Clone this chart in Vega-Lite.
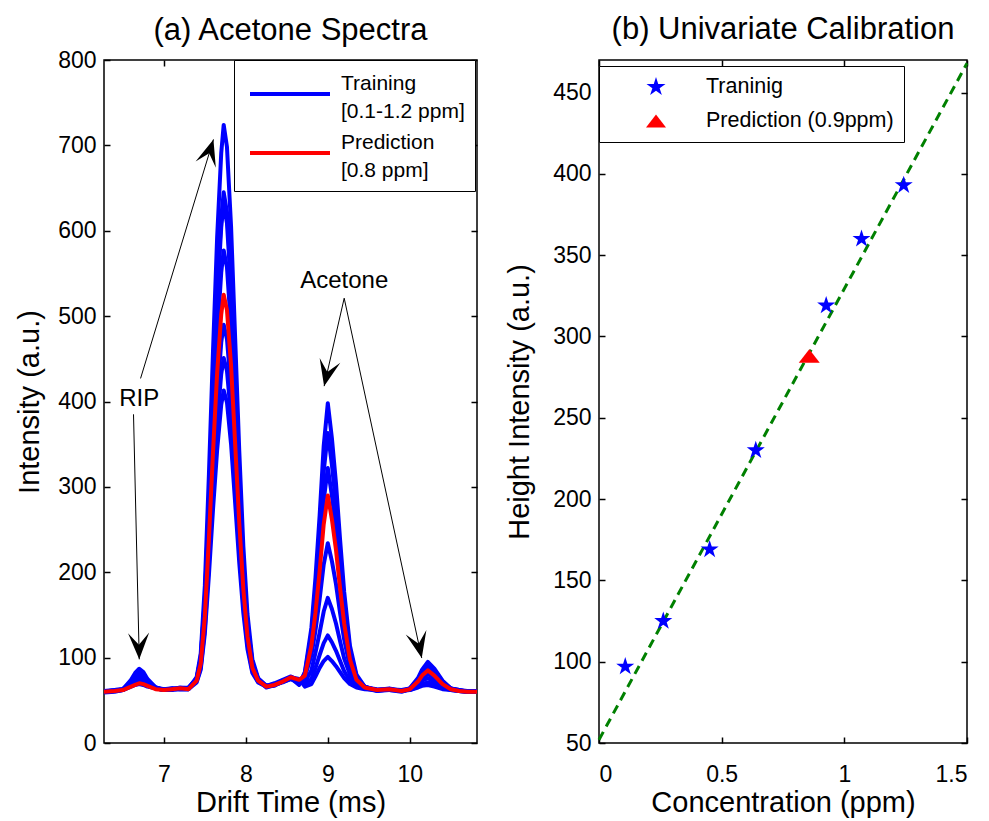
{
  "$schema": "https://vega.github.io/schema/vega-lite/v6.json",
  "background": "white",
  "padding": {"left": 14, "top": 13, "right": 5, "bottom": 0},
  "spacing": 25,
  "resolve": {"scale": {"color": "independent", "shape": "independent"}},
  "config": {
    "font": "Liberation Sans",
    "view": {"stroke": "black", "strokeWidth": 1.5},
    "axis": {"grid": false, "domain": false, "ticks": true, "tickSize": 6, "offset": -6, "tickWidth": 1.5, "tickColor": "black", "labelFont": "Liberation Sans", "labelFontSize": 23, "labelColor": "black", "titleFont": "Liberation Sans", "titleFontSize": 29, "titleFontWeight": "normal", "titleColor": "black"},
    "axisX": {"labelPadding": 20, "titlePadding": 2},
    "axisY": {"labelPadding": 8, "titlePadding": 13},
    "title": {"font": "Liberation Sans", "fontSize": 31, "fontWeight": "normal", "color": "black", "frame": "group", "offset": 2},
    "legend": {"labelFont": "Liberation Sans", "labelColor": "black"}
  },
  "datasets": {
    "spectra": [
      {"t":6.27,"b1":61,"b2":60,"b3":61,"b4":60,"b5":59,"b6":60,"b7":61,"r":60},
      {"t":6.4,"b1":62,"b2":61,"b3":61,"b4":62,"b5":60,"b6":61,"b7":61,"r":61},
      {"t":6.5,"b1":63,"b2":63,"b3":63,"b4":63,"b5":62,"b6":62,"b7":62,"r":62},
      {"t":6.6,"b1":74,"b2":72,"b3":71,"b4":69,"b5":68,"b6":67,"b7":66,"r":66},
      {"t":6.65,"b1":82,"b2":79,"b3":77,"b4":74,"b5":71,"b6":69,"b7":68,"r":68},
      {"t":6.7,"b1":87,"b2":83,"b3":80,"b4":77,"b5":73,"b6":71,"b7":69,"r":70},
      {"t":6.75,"b1":83,"b2":80,"b3":77,"b4":75,"b5":72,"b6":70,"b7":68,"r":69},
      {"t":6.8,"b1":75,"b2":73,"b3":71,"b4":70,"b5":68,"b6":67,"b7":66,"r":67},
      {"t":6.9,"b1":65,"b2":65,"b3":65,"b4":64,"b5":64,"b6":64,"b7":64,"r":63},
      {"t":7.0,"b1":62,"b2":63,"b3":62,"b4":62,"b5":63,"b6":62,"b7":62,"r":62},
      {"t":7.1,"b1":63,"b2":64,"b3":63,"b4":63,"b5":62,"b6":63,"b7":64,"r":63},
      {"t":7.2,"b1":64,"b2":63,"b3":64,"b4":65,"b5":63,"b6":64,"b7":63,"r":64},
      {"t":7.3,"b1":64,"b2":63,"b3":65,"b4":64,"b5":63,"b6":64,"b7":63,"r":63},
      {"t":7.4,"b1":77,"b2":76,"b3":75,"b4":74,"b5":73,"b6":72,"b7":71,"r":73},
      {"t":7.45,"b1":105,"b2":100,"b3":99,"b4":96,"b5":91,"b6":88,"b7":86,"r":93},
      {"t":7.5,"b1":184,"b2":169,"b3":167,"b4":157,"b5":142,"b6":134,"b7":128,"r":148},
      {"t":7.55,"b1":315,"b2":285,"b3":280,"b4":260,"b5":227,"b6":212,"b7":197,"r":240},
      {"t":7.6,"b1":460,"b2":413,"b3":405,"b4":372,"b5":320,"b6":297,"b7":274,"r":341},
      {"t":7.65,"b1":592,"b2":529,"b3":519,"b4":475,"b5":405,"b6":374,"b7":343,"r":433},
      {"t":7.7,"b1":691,"b2":616,"b3":604,"b4":551,"b5":469,"b6":432,"b7":396,"r":502},
      {"t":7.73,"b1":724,"b2":645,"b3":632,"b4":577,"b5":490,"b6":451,"b7":413,"r":525},
      {"t":7.77,"b1":698,"b2":622,"b3":609,"b4":557,"b5":473,"b6":436,"b7":399,"r":507},
      {"t":7.82,"b1":605,"b2":541,"b3":530,"b4":485,"b5":414,"b6":382,"b7":350,"r":442},
      {"t":7.87,"b1":474,"b2":425,"b3":417,"b4":382,"b5":329,"b6":304,"b7":281,"r":350},
      {"t":7.92,"b1":342,"b2":309,"b3":303,"b4":280,"b5":244,"b6":227,"b7":211,"r":258},
      {"t":7.97,"b1":230,"b2":210,"b3":207,"b4":193,"b5":171,"b6":162,"b7":152,"r":180},
      {"t":8.02,"b1":151,"b2":140,"b3":139,"b4":132,"b5":120,"b6":115,"b7":110,"r":125},
      {"t":8.08,"b1":98,"b2":94,"b3":93,"b4":91,"b5":86,"b6":84,"b7":82,"r":88},
      {"t":8.15,"b1":76,"b2":75,"b3":75,"b4":74,"b5":72,"b6":72,"b7":71,"r":73},
      {"t":8.25,"b1":67,"b2":66,"b3":67,"b4":65,"b5":66,"b6":67,"b7":66,"r":66},
      {"t":8.35,"b1":69,"b2":68,"b3":70,"b4":68,"b5":67,"b6":69,"b7":68,"r":68},
      {"t":8.45,"b1":73,"b2":72,"b3":74,"b4":71,"b5":72,"b6":73,"b7":72,"r":72},
      {"t":8.55,"b1":77,"b2":76,"b3":78,"b4":75,"b5":75,"b6":77,"b7":76,"r":77},
      {"t":8.65,"b1":75,"b2":74,"b3":73,"b4":72,"b5":70,"b6":69,"b7":68,"r":74},
      {"t":8.72,"b1":66,"b2":68,"b3":71,"b4":77,"b5":80,"b6":82,"b7":83,"r":79},
      {"t":8.8,"b1":69,"b2":75,"b3":85,"b4":103,"b5":120,"b6":128,"b7":135,"r":114},
      {"t":8.85,"b1":78,"b2":88,"b3":106,"b4":132,"b5":165,"b6":181,"b7":194,"r":153},
      {"t":8.9,"b1":88,"b2":103,"b3":129,"b4":168,"b5":221,"b6":245,"b7":266,"r":201},
      {"t":8.95,"b1":96,"b2":117,"b3":154,"b4":209,"b5":284,"b6":318,"b7":348,"r":256},
      {"t":9.0,"b1":101,"b2":126,"b3":170,"b4":234,"b5":322,"b6":363,"b7":398,"r":290},
      {"t":9.05,"b1":96,"b2":118,"b3":157,"b4":213,"b5":290,"b6":326,"b7":357,"r":262},
      {"t":9.1,"b1":90,"b2":108,"b3":140,"b4":186,"b5":249,"b6":279,"b7":304,"r":226},
      {"t":9.15,"b1":83,"b2":96,"b3":119,"b4":152,"b5":198,"b6":219,"b7":238,"r":181},
      {"t":9.2,"b1":76,"b2":84,"b3":99,"b4":121,"b5":151,"b6":165,"b7":177,"r":140},
      {"t":9.27,"b1":69,"b2":73,"b3":80,"b4":89,"b5":102,"b6":109,"b7":114,"r":98},
      {"t":9.35,"b1":65,"b2":66,"b3":68,"b4":71,"b5":76,"b6":78,"b7":80,"r":74},
      {"t":9.45,"b1":63,"b2":64,"b3":64,"b4":65,"b5":66,"b6":66,"b7":66,"r":65},
      {"t":9.6,"b1":62,"b2":61,"b3":62,"b4":63,"b5":62,"b6":61,"b7":62,"r":62},
      {"t":9.75,"b1":63,"b2":62,"b3":63,"b4":62,"b5":64,"b6":63,"b7":62,"r":63},
      {"t":9.9,"b1":61,"b2":62,"b3":61,"b4":60,"b5":61,"b6":62,"b7":61,"r":61},
      {"t":10.0,"b1":62,"b2":62,"b3":63,"b4":63,"b5":63,"b6":64,"b7":64,"r":63},
      {"t":10.1,"b1":65,"b2":66,"b3":68,"b4":70,"b5":72,"b6":74,"b7":76,"r":72},
      {"t":10.15,"b1":67,"b2":69,"b3":73,"b4":76,"b5":80,"b6":83,"b7":86,"r":79},
      {"t":10.22,"b1":68,"b2":71,"b3":76,"b4":81,"b5":87,"b6":91,"b7":95,"r":85},
      {"t":10.3,"b1":66,"b2":69,"b3":72,"b4":76,"b5":81,"b6":84,"b7":87,"r":79},
      {"t":10.4,"b1":63,"b2":65,"b3":66,"b4":68,"b5":70,"b6":72,"b7":73,"r":69},
      {"t":10.5,"b1":62,"b2":62,"b3":63,"b4":63,"b5":64,"b6":64,"b7":64,"r":63},
      {"t":10.6,"b1":61,"b2":61,"b3":62,"b4":61,"b5":62,"b6":62,"b7":61,"r":61},
      {"t":10.7,"b1":60,"b2":61,"b3":60,"b4":60,"b5":61,"b6":60,"b7":60,"r":60},
      {"t":10.82,"b1":60,"b2":60,"b3":61,"b4":60,"b5":60,"b6":61,"b7":60,"r":60}
    ],
    "arrows": [
      {"id": "ripMain", "x": 6.716, "y": 427, "x2": 7.605, "y2": 707},
      {"id": "ripSmall", "x": 6.63, "y": 385, "x2": 6.70, "y2": 98},
      {"id": "acet9", "x": 9.20, "y": 521, "x2": 8.955, "y2": 418},
      {"id": "acet10", "x": 9.20, "y": 521, "x2": 10.146, "y2": 99.5}
    ],
    "notes": [
      {"t": 6.70, "v": 403, "label": "RIP"},
      {"t": 9.20, "v": 541, "label": "Acetone"}
    ],
    "fit": [
      {"conc": 0, "height": 52},
      {"conc": 1.5, "height": 468}
    ],
    "training": [
      {"conc": 0.107, "height": 97},
      {"conc": 0.262, "height": 125},
      {"conc": 0.451, "height": 169},
      {"conc": 0.639, "height": 230},
      {"conc": 0.926, "height": 319},
      {"conc": 1.07, "height": 360},
      {"conc": 1.242, "height": 393}
    ],
    "prediction": [
      {"conc": 0.857, "height": 288}
    ]
  },
  "hconcat": [
    {
      "width": 373,
      "height": 683,
      "title": {"text": "(a) Acetone Spectra", "offset": 2},
      "layer": [
        {
          "data": {"name": "spectra"},
          "transform": [{"fold": ["b1", "b2", "b3", "b4", "b5", "b6", "b7"], "as": ["curve", "intensity"]}],
          "mark": {"type": "line", "strokeWidth": 4, "clip": true, "strokeJoin": "round"},
          "encoding": {
            "x": {"field": "t", "type": "quantitative", "scale": {"domain": [6.27, 10.82], "nice": false, "zero": false}, "axis": {"values": [7, 8, 9, 10], "title": "Drift Time (ms)", "orient": "bottom"}},
            "y": {"field": "intensity", "type": "quantitative", "scale": {"domain": [0, 800], "nice": false}, "axis": {"values": [0, 100, 200, 300, 400, 500, 600, 700, 800], "title": "Intensity (a.u.)", "orient": "left", "titlePadding": 13}},
            "detail": {"field": "curve", "type": "nominal"},
            "color": {
              "datum": "Training", "type": "nominal",
              "scale": {"domain": ["Training", "Prediction"], "range": ["#0000ff", "#ff0000"]},
              "legend": {
                "title": null, "orient": "none", "legendX": 130, "legendY": 0,
                "strokeColor": "black", "fillColor": "white", "padding": 10, "symbolOffset": 4,
                "symbolType": "stroke", "symbolSize": 6400, "symbolStrokeWidth": 4,
                "labelFontSize": 21, "labelOffset": 9, "rowPadding": 7, "clipHeight": 48, "labelBaseline": "bottom",
                "labelExpr": "datum.label == 'Training' ? ['Training', '[0.1-1.2 ppm]'] : ['Prediction', '[0.8 ppm]']",
                "encode": {"labels": {"update": {"lineHeight": {"value": 28}}}}
              }
            }
          }
        },
        {
          "data": {"name": "spectra"},
          "mark": {"type": "line", "strokeWidth": 4, "clip": true, "strokeJoin": "round"},
          "encoding": {
            "x": {"field": "t", "type": "quantitative", "axis": {"values": [7, 8, 9, 10], "orient": "top", "labels": false, "title": null}},
            "y": {"field": "r", "type": "quantitative", "axis": {"values": [0, 100, 200, 300, 400, 500, 600, 700, 800], "orient": "right", "labels": false, "title": null}},
            "color": {"datum": "Prediction", "type": "nominal"}
          }
        },
        {
          "data": {"name": "arrows"},
          "mark": {"type": "rule", "color": "black", "strokeWidth": 1},
          "encoding": {
            "x": {"field": "x", "type": "quantitative", "axis": null},
            "y": {"field": "y", "type": "quantitative", "axis": null},
            "x2": {"field": "x2"},
            "y2": {"field": "y2"}
          }
        },
        {
          "data": {"name": "arrows"},
          "transform": [{"filter": "datum.id == 'ripMain'"}],
          "mark": {"type": "point", "filled": true, "color": "black", "opacity": 1, "size": 2800, "angle": 17, "shape": "M0,0L0.4,1L0,0.55L-0.4,1Z"},
          "encoding": {
            "x": {"field": "x2", "type": "quantitative", "axis": null},
            "y": {"field": "y2", "type": "quantitative", "axis": null}
          }
        },
        {
          "data": {"name": "arrows"},
          "transform": [{"filter": "datum.id == 'ripSmall'"}],
          "mark": {"type": "point", "filled": true, "color": "black", "opacity": 1, "size": 2800, "angle": 178.6, "shape": "M0,0L0.4,1L0,0.55L-0.4,1Z"},
          "encoding": {
            "x": {"field": "x2", "type": "quantitative", "axis": null},
            "y": {"field": "y2", "type": "quantitative", "axis": null}
          }
        },
        {
          "data": {"name": "arrows"},
          "transform": [{"filter": "datum.id == 'acet9'"}],
          "mark": {"type": "point", "filled": true, "color": "black", "opacity": 1, "size": 2800, "angle": 192.8, "shape": "M0,0L0.4,1L0,0.55L-0.4,1Z"},
          "encoding": {
            "x": {"field": "x2", "type": "quantitative", "axis": null},
            "y": {"field": "y2", "type": "quantitative", "axis": null}
          }
        },
        {
          "data": {"name": "arrows"},
          "transform": [{"filter": "datum.id == 'acet10'"}],
          "mark": {"type": "point", "filled": true, "color": "black", "opacity": 1, "size": 2800, "angle": 167.6, "shape": "M0,0L0.4,1L0,0.55L-0.4,1Z"},
          "encoding": {
            "x": {"field": "x2", "type": "quantitative", "axis": null},
            "y": {"field": "y2", "type": "quantitative", "axis": null}
          }
        },
        {
          "data": {"name": "notes"},
          "mark": {"type": "text", "fontSize": 24, "font": "Liberation Sans", "color": "black", "align": "center", "baseline": "middle"},
          "encoding": {
            "x": {"field": "t", "type": "quantitative", "axis": null},
            "y": {"field": "v", "type": "quantitative", "axis": null},
            "text": {"field": "label"}
          }
        }
      ],
      "resolve": {"axis": {"x": "independent", "y": "independent"}}
    },
    {
      "width": 368,
      "height": 683,
      "title": {"text": "(b) Univariate Calibration", "offset": 11},
      "layer": [
        {
          "data": {"name": "fit"},
          "mark": {"type": "line", "color": "#008000", "strokeWidth": 3, "strokeDash": [9, 6]},
          "encoding": {
            "x": {"field": "conc", "type": "quantitative", "scale": {"domain": [0, 1.5], "nice": false}, "axis": {"values": [0, 0.5, 1, 1.5], "format": "~g", "title": "Concentration (ppm)", "orient": "bottom"}},
            "y": {"field": "height", "type": "quantitative", "scale": {"domain": [50, 470], "nice": false, "zero": false}, "axis": {"values": [50, 100, 150, 200, 250, 300, 350, 400, 450], "title": "Height Intensity (a.u.)", "orient": "left", "titlePadding": 18}}
          }
        },
        {
          "data": {"name": "training"},
          "mark": {"type": "point", "filled": true, "opacity": 1, "size": 361},
          "encoding": {
            "x": {"field": "conc", "type": "quantitative", "axis": null},
            "y": {"field": "height", "type": "quantitative", "axis": null},
            "color": {
              "datum": "Traninig", "type": "nominal",
              "scale": {"domain": ["Traninig", "Prediction (0.9ppm)"], "range": ["#0000ff", "#ff0000"]},
              "legend": {
                "title": null, "orient": "none", "legendX": 0, "legendY": 6,
                "strokeColor": "black", "fillColor": "white", "padding": 10,
                "symbolSize": 400, "symbolOffset": 36, "labelOffset": 39,
                "labelFontSize": 21.5, "rowPadding": 12, "labelLimit": 300
              }
            },
            "shape": {
              "datum": "Traninig", "type": "nominal",
              "scale": {"domain": ["Traninig", "Prediction (0.9ppm)"], "range": ["M0,-1L0.2245,-0.309L0.9511,-0.309L0.3633,0.118L0.5878,0.809L0,0.382L-0.5878,0.809L-0.3633,0.118L-0.9511,-0.309L-0.2245,-0.309Z", "M0,-0.65L1,0.65L-1,0.65Z"]},
              "legend": {
                "title": null, "orient": "none", "legendX": 0, "legendY": 6,
                "strokeColor": "black", "fillColor": "white", "padding": 10,
                "symbolSize": 400, "symbolOffset": 36, "labelOffset": 39,
                "labelFontSize": 21.5, "rowPadding": 12, "labelLimit": 300
              }
            }
          }
        },
        {
          "data": {"name": "prediction"},
          "mark": {"type": "point", "filled": true, "opacity": 1, "size": 441},
          "encoding": {
            "x": {"field": "conc", "type": "quantitative", "axis": {"values": [0, 0.5, 1, 1.5], "orient": "top", "labels": false, "title": null}},
            "y": {"field": "height", "type": "quantitative", "axis": {"values": [50, 100, 150, 200, 250, 300, 350, 400, 450], "orient": "right", "labels": false, "title": null}},
            "color": {"datum": "Prediction (0.9ppm)", "type": "nominal"},
            "shape": {"datum": "Prediction (0.9ppm)", "type": "nominal"}
          }
        }
      ],
      "resolve": {"axis": {"x": "independent", "y": "independent"}}
    }
  ]
}
